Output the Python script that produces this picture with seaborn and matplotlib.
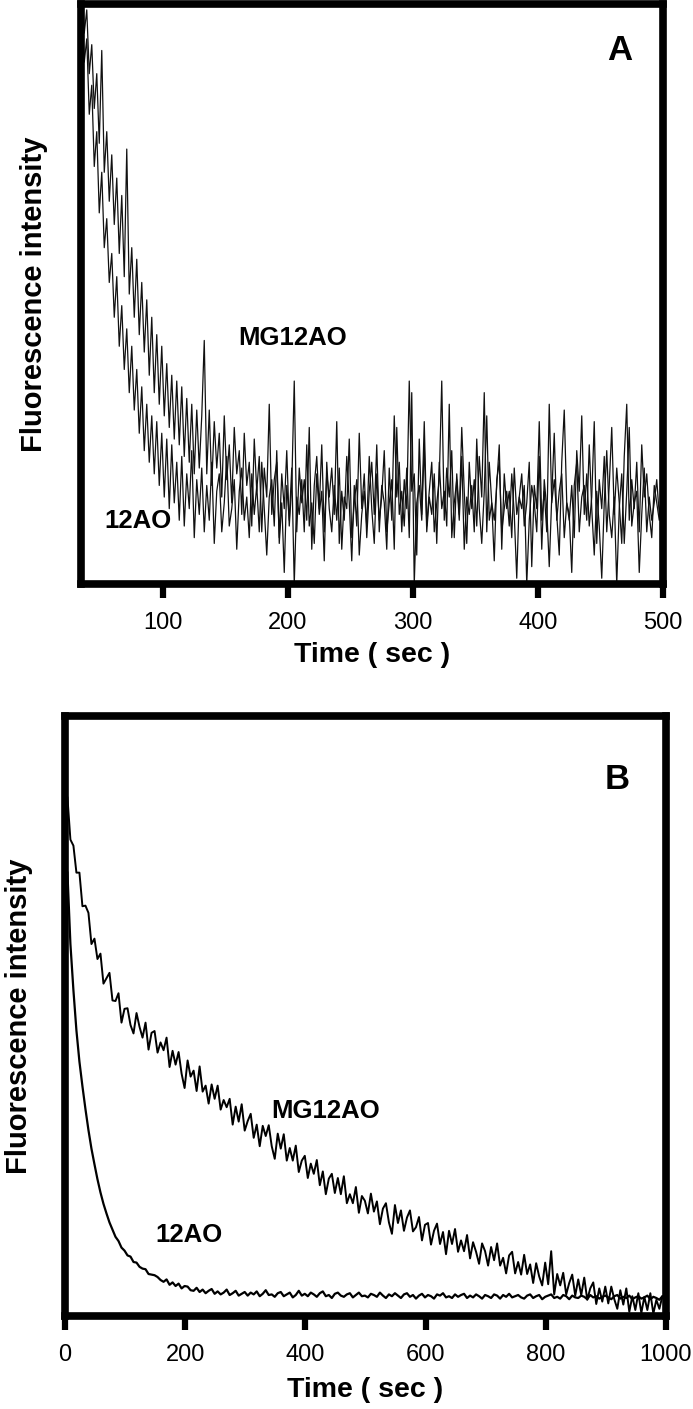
import matplotlib
matplotlib.use('Agg')
import matplotlib.pyplot as plt
import seaborn as sns
import numpy as np

# Panel A: 2 s sampling (35..499 s)
time_a = np.arange(35, 500, 2)
ao12_a = [
    99, 90, 94, 81, 86, 72, 78, 64, 71, 58,
    63, 52, 57, 46, 53, 41, 48, 37, 44, 33,
    41, 30, 37, 26, 34, 23, 31, 21, 29, 19,
    28, 17, 26, 15, 25, 13, 24, 14, 21, 11,
    22, 10, 19, 13, 23, 8, 18, 12, 20, 9,
    17, 11, 21, 7, 16, 19, 9, 14, 22, 10,
    13, 18, 6, 16, 20, 11, 15, 8, 19, 12,
    17, 9, 21, 13, 5, 15, 18, 10, 23, 7,
    14, 2, 17, 11, 20, 0, 15, 12, 18, 9,
    24, 10, 14, 7, 19, 12, 16, 4, 21, 13,
    9, 17, 11, 20, 6, 15, 13, 25, 8, 14,
    18, 5, 12, 16, 10, 22, 13, 7, 19, 11,
    15, 23, 9, 14, 18, 6, 27, 12, 16, 10,
    20, 8, 33, 0, 14, 17, 11, 24, 9, 15,
    12, 19, 7, 21, 13, 16, 10, 31, 8, 14,
    18, 11, 22, 6, 15, 12, 17, 9, 25, 13,
    7, 16, 29, 11, 14, 4, 18, 21, 9, 13,
    16, 10, 19, 12, 1, 15, 13, 17, 0, 11,
    17, 14, 9, 22, 6, 18, 13, 3, 15, 26,
    11, 16, 19, 8, 14, 12, 2, 17, 21, 9,
    15, 17, 11, 24, 13, 5, 16, 10, 1, 14,
    23, 12, 8, 15, 0, 13, 19, 7, 16, 27,
    10, 14, 16, 2, 12, 20, 9, 15, 11, 14,
    18, 12, 15,
]
mg12ao_a = [
    104, 95, 99, 88, 93, 82, 88, 76, 92, 71,
    78, 66, 74, 62, 70, 57, 67, 53, 75, 50,
    58, 46, 56, 43, 52, 40, 49, 36, 46, 33,
    43, 31, 41, 29, 38, 27, 36, 25, 35, 24,
    34, 22, 32, 21, 31, 19, 30, 20, 29, 42,
    19, 30, 17, 28, 20, 26, 15, 29, 18, 24,
    14, 27, 19, 23, 12, 26, 17, 21, 10, 25,
    16, 22, 9, 20, 15, 31, 12, 18, 21, 8,
    19, 13, 23, 10, 17, 35, 9, 20, 14, 18,
    11, 27, 6, 17, 22, 13, 24, 9, 19, 15,
    20, 12, 28, 7, 16, 11, 22, 14, 4, 17,
    10, 26, 13, 19, 8, 16, 21, 12, 24, 9,
    17, 14, 6, 20, 11, 29, 15, 21, 9, 18,
    13, 35, 16, 19, 5, 25, 12, 28, 10, 16,
    21, 9, 14, 18, 35, 11, 20, 15, 23, 8,
    19, 12, 27, 16, 7, 21, 13, 18, 10, 22,
    15, 33, 9, 21, 14, 11, 17, 24, 6, 19,
    13, 16, 8, 20, 12, 15, 19, 10, 14, 21,
    3, 17, 13, 28, 11, 16, 9, 31, 14, 18,
    12, 5, 21, 30, 14, 11, 17, 8, 23, 16,
    29, 12, 19, 10, 15, 28, 7, 18, 13, 22,
    9, 17, 27, 12, 20, 14, 7, 22, 31, 11,
    18, 13, 21, 9, 24, 15, 19, 12, 8, 17,
    14, 11, 16,
]

# Panel B: 5 s sampling (4..999 s)
time_b = np.arange(4, 1000, 5)
mg12ao_b = [
    86.5, 79.4, 78.4, 73.9, 73.9, 68.3, 68.4, 67.2, 62.0, 62.9,
    59.5, 60.4, 55.4, 56.3, 57.2, 52.6, 52.5, 53.8, 48.9, 51.2,
    51.3, 48.5, 47.1, 50.5, 48.2, 46.4, 48.9, 44.4, 47.2, 47.5,
    43.9, 45.6, 44.3, 46.4, 41.5, 44.2, 41.9, 44.0, 40.4, 38.0,
    42.6, 39.9, 40.9, 37.5, 41.6, 37.4, 38.4, 35.4, 38.6, 36.2,
    38.4, 34.4, 36.0, 34.8, 36.2, 31.9, 34.9, 32.4, 35.3, 30.9,
    32.5, 33.7, 29.7, 31.9, 28.3, 31.7, 30.0, 31.8, 28.3, 26.2,
    30.4, 27.9, 30.3, 25.9, 28.0, 25.9, 28.4, 24.0, 25.9, 26.7,
    23.0, 25.4, 23.7, 26.0, 21.8, 24.1, 20.3, 22.9, 23.7, 20.5,
    23.0, 20.3, 23.3, 18.8, 20.3, 18.8, 21.5, 17.2, 20.0, 19.2,
    17.1, 20.4, 17.4, 19.1, 15.3, 17.9, 18.8, 15.6, 13.7, 18.5,
    15.5, 17.6, 14.2, 16.4, 17.6, 14.1, 14.8, 16.5, 12.6, 15.2,
    15.5, 11.9, 14.2, 15.4, 12.0, 14.0, 10.3, 14.2, 12.0, 14.5,
    10.7, 12.6, 10.8, 13.5, 9.6, 12.3, 10.7, 8.7, 12.1, 10.8,
    8.4, 11.5, 9.3, 12.1, 8.4, 9.7, 7.1, 10.1, 10.7, 7.1,
    9.0, 6.9, 10.2, 7.0, 8.6, 5.5, 8.8, 6.6, 5.1, 8.9,
    5.3, 10.8, 3.6, 7.0, 5.1, 7.2, 3.6, 5.5, 6.9, 3.4,
    6.1, 3.5, 6.4, 2.7, 4.6, 5.6, 2.0, 4.6, 2.4, 4.9,
    2.1, 4.9, 2.8, 1.2, 4.3, 1.9, 4.6, 0.7, 3.3, 1.0,
    3.8, 0.5, 3.2, 1.0, 3.8, 0.4, 2.7, 1.2, 3.3, 2.2,
]
ao12_b = [
    74.0, 62.0, 54.3, 47.6, 42.4, 38.3, 34.5, 31.0, 27.9, 25.3,
    22.8, 20.6, 18.7, 17.1, 15.6, 14.4, 13.2, 12.5, 11.4, 10.9,
    10.1, 9.9, 9.0, 8.9, 8.2, 7.9, 7.8, 7.0, 6.9, 6.8,
    6.5, 6.0, 5.7, 6.1, 5.2, 5.6, 5.0, 5.4, 4.6, 5.0,
    4.9, 4.3, 4.2, 4.7, 4.0, 4.4, 3.8, 4.2, 4.5, 3.7,
    4.1, 3.6, 3.9, 4.4, 3.5, 3.8, 4.2, 3.4, 3.7, 4.0,
    3.4, 3.9, 3.6, 4.1, 3.3, 3.7, 4.3, 3.5, 3.6, 3.2,
    3.8, 4.0, 3.3, 3.6, 3.9, 3.1, 3.5, 4.2, 3.4, 3.7,
    3.3, 3.9, 3.6, 3.2, 3.8, 4.1, 3.3, 3.5, 3.0, 3.7,
    3.9, 3.4, 3.2, 3.6, 3.8, 3.1, 3.5, 3.9, 3.3, 3.4,
    3.1, 3.7, 3.5, 3.2, 3.9, 3.4, 3.0, 3.6, 3.3, 3.8,
    3.4, 3.0, 3.6, 3.8, 3.2, 3.5, 2.9, 3.4, 3.7, 3.1,
    3.5, 3.3, 2.9, 3.6, 3.4, 3.8, 3.1, 3.3, 3.0, 3.6,
    3.2, 3.5, 3.7, 3.0, 3.4, 3.1, 3.6, 3.3, 2.9, 3.5,
    3.3, 3.0, 3.6, 3.4, 2.9, 3.5, 3.2, 3.7, 3.1, 3.3,
    3.5, 3.1, 2.9, 3.4, 3.6, 3.0, 3.3, 3.5, 2.8, 3.2,
    3.4, 3.6, 3.0, 3.2, 2.9, 3.5, 3.3, 2.8, 3.4, 3.1,
    3.0, 3.4, 3.2, 2.8, 3.5, 3.1, 3.3, 2.9, 3.2, 3.4,
    3.1, 2.8, 3.3, 3.5, 2.9, 3.2, 3.0, 3.4, 2.8, 3.1,
    3.3, 2.9, 3.1, 3.4, 2.8, 3.2, 3.0, 2.7, 3.3, 3.1,
]

XTICKS_A = [100, 200, 300, 400, 500]
XTICKS_B = [0, 200, 400, 600, 800, 1000]
NARROW = ['Liberation Sans Narrow', 'Liberation Sans', 'DejaVu Sans']

sns.set_theme(style='white')
plt.rcParams['font.family'] = ['Liberation Sans', 'DejaVu Sans']
plt.rcParams['text.color'] = 'black'
plt.rcParams['axes.labelcolor'] = 'black'
plt.rcParams['xtick.color'] = 'black'


def style_panel(ax, xlim, xticks, xpad, ypad):
    ax.set_xlim(*xlim)
    ax.set_ylim(0, 100)
    ax.set_xticks(xticks)
    for s in ax.spines.values():
        s.set_visible(True)
        s.set_color('black')
        s.set_linewidth(5.5)
        s.set_capstyle('projecting')
    ax.tick_params(axis='x', bottom=True, direction='out', length=10, width=4.5,
                   pad=10, labelsize=17, colors='black')
    ax.tick_params(axis='y', left=False, labelleft=False)
    for lab in ax.get_xticklabels():
        lab.set_fontfamily(NARROW)
    ax.set_xlabel('Time ( sec )', fontsize=20.5, fontweight='bold', labelpad=xpad)
    ax.set_ylabel('Fluorescence intensity', fontsize=21, fontweight='bold', labelpad=ypad)
    ax.grid(False)


fig = plt.figure(figsize=(6.93, 14.09), dpi=100)
fig.patch.set_facecolor('white')
ax_a = fig.add_axes([0.1169, 0.5855, 0.8398, 0.4116])
ax_b = fig.add_axes([0.0938, 0.0660, 0.8672, 0.4258])

sns.lineplot(x=time_a, y=ao12_a, ax=ax_a, color='#111111', lw=0.9)
sns.lineplot(x=time_a, y=mg12ao_a, ax=ax_a, color='#111111', lw=0.9)
style_panel(ax_a, (34.4, 500), XTICKS_A, 6, 24)
ax_a.text(465, 92, 'A', ha='center', va='center', fontsize=25, fontweight='bold')
ax_a.text(204, 42.4, 'MG12AO', ha='center', va='center', fontsize=18.5, fontweight='bold')
ax_a.text(80, 10.9, '12AO', ha='center', va='center', fontsize=18.5, fontweight='bold')

sns.lineplot(x=time_b, y=ao12_b, ax=ax_b, color='black', lw=1.6)
sns.lineplot(x=time_b, y=mg12ao_b, ax=ax_b, color='black', lw=1.4)
style_panel(ax_b, (0, 1000), XTICKS_B, 8, 23)
ax_b.text(918, 89.5, 'B', ha='center', va='center', fontsize=25, fontweight='bold')
ax_b.text(433, 34.2, 'MG12AO', ha='center', va='center', fontsize=18.5, fontweight='bold')
ax_b.text(206, 13.5, '12AO', ha='center', va='center', fontsize=18.5, fontweight='bold')

fig.savefig('out.png', dpi=100, facecolor='white')
